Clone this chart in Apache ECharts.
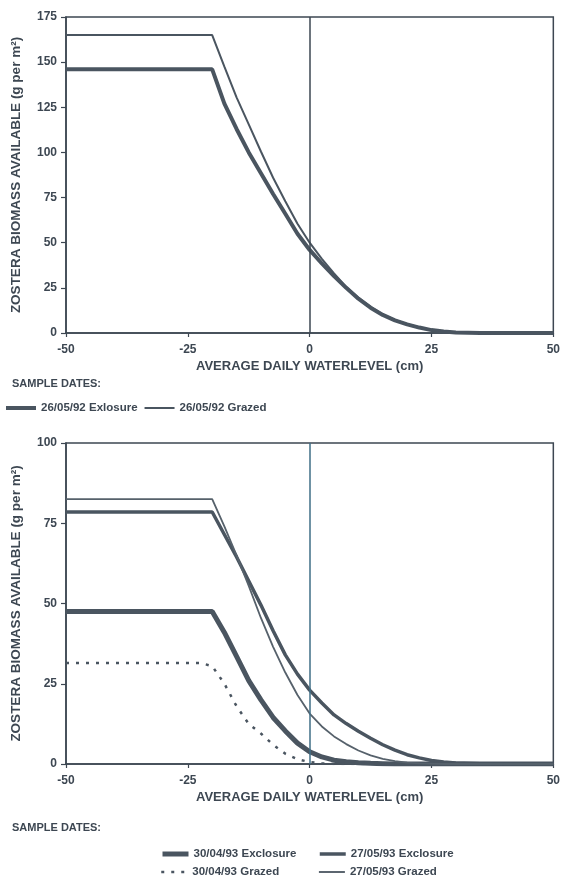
<!DOCTYPE html>
<html>
<head>
<meta charset="utf-8">
<script src="https://cdn.jsdelivr.net/npm/echarts@6/dist/echarts.min.js"></script>
<style>
html,body{margin:0;padding:0;background:#fff;}
#c{width:563px;height:882px;}
</style>
</head>
<body>
<div id="c"></div>
<script>
// ---- data ----
const waterlevel = [-50,-22.5,-20,-17.5,-15,-12.5,-10,-7.5,-5,-2.5,0,2.5,5,7.5,10,12.5,15,17.5,20,22.5,25,27.5,30,35,40,50];

// top chart (1992)
const exclosure920526 = [146,146,146,127,113,100,88.5,77,66,55,46,38.5,31.5,25,19,14,10,7,4.8,3,1.6,0.8,0.3,0.05,0,0];
const grazed920526    = [165,165,165,147.5,130.5,115.5,100.5,86,73,60.5,50,41,33,25.5,19.5,14.5,10.3,7.2,4.9,3.1,1.7,0.9,0.4,0.1,0,0];

// bottom chart (1993)
const exclosure930430 = [47.5,47.5,47.5,41,33.5,26,20,14.5,10.3,6.5,3.8,2.2,1.2,0.7,0.4,0.2,0.1,0,0,0,0,0,0,0,0,0];
const exclosure930527 = [78.5,78.5,78.5,71.5,64.5,57,49.5,41.5,34,28,23,19,15.3,12.6,10.2,8,6,4.3,2.9,1.9,1.1,0.6,0.3,0.1,0,0];
const grazed930430    = [31.5,31.5,30.5,25,18,12.5,9.5,6,3.2,1.5,0.6,0.2,0,0,0,0,0,0,0,0,0,0,0,0,0,0];
const grazed930527    = [82.5,82.5,82.5,74,65,55.5,45.5,36.5,28.5,21.5,15.7,11.7,8.6,6.2,4.2,2.7,1.6,0.9,0.4,0.2,0.1,0,0,0,0,0];

const xTicks = [-50,-25,0,25,50];
const yTicksTop = [0,25,50,75,100,125,150,175];
const yTicksBottom = [0,25,50,75,100];
const zeroLevel = 0;

const names = {
  e92: '26/05/92 Exlosure', g92: '26/05/92 Grazed',
  e930430: '30/04/93 Exclosure', e930527: '27/05/93 Exclosure',
  g930430: '30/04/93 Grazed', g930527: '27/05/93 Grazed'
};

// ---- styling ----
const ink = '#3d4752';
const lineCol = '#4a5560';
const FONT = "'Liberation Sans', Arial, sans-serif";
const pair = ys => waterlevel.map((x,i)=>[x, ys[i]]);

function xAxis(gridIndex){
  return {
    type:'value', gridIndex, min:xTicks[0], max:xTicks[xTicks.length-1], interval:xTicks[1]-xTicks[0],
    name:'AVERAGE DAILY WATERLEVEL (cm)', nameLocation:'middle', nameGap:27,
    nameTextStyle:{color:ink, fontFamily:FONT, fontWeight:'bold', fontSize:13},
    axisLine:{show:true, onZero:false, lineStyle:{color:ink, width:1.5}},
    axisTick:{show:true, length:4, lineStyle:{color:ink, width:1.2}},
    axisLabel:{color:ink, fontFamily:FONT, fontWeight:'bold', fontSize:12, margin:11},
    splitLine:{show:false}
  };
}
function yAxis(gridIndex, ticks){
  return {
    type:'value', gridIndex, min:ticks[0], max:ticks[ticks.length-1], interval:ticks[1]-ticks[0],
    name:'ZOSTERA BIOMASS AVAILABLE (g per m²)', nameLocation:'middle', nameGap:43,
    nameTextStyle:{color:ink, fontFamily:FONT, fontWeight:'bold', fontSize:13.5},
    axisLine:{show:true, onZero:false, lineStyle:{color:ink, width:1.5}},
    axisTick:{show:true, length:5, lineStyle:{color:ink, width:1.2}},
    axisLabel:{color:ink, fontFamily:FONT, fontWeight:'bold', fontSize:12, margin:9},
    splitLine:{show:false}
  };
}
function zeroMark(color){
  return {silent:true, symbol:'none', label:{show:false},
    lineStyle:{color:color, width:1.5, type:'solid'}, data:[{xAxis:zeroLevel}]};
}
function line(name, ys, gi, width, extra){
  return Object.assign({
    name, type:'line', xAxisIndex:gi, yAxisIndex:gi, data:pair(ys),
    symbol:'none', smooth:false, animation:false,
    lineStyle:{color:lineCol, width:width, type:'solid'}, itemStyle:{color:lineCol}
  }, extra||{});
}
const legendText = {color:ink, fontFamily:FONT, fontWeight:'bold', fontSize:11.5};
function item(name, width, type){
  return {name, lineStyle:{width:width, type:type||'solid', color:lineCol}};
}
function leg(data, left, top, w){
  return {data, left, top, orient:'horizontal', padding:0, itemGap:6, itemWidth:w||28, itemHeight:10,
    textStyle:legendText, selectedMode:false, itemStyle:{opacity:0, borderWidth:0}};
}

const chart = echarts.init(document.getElementById('c'), null, {renderer:'canvas'});
chart.setOption({
  animation:false,
  backgroundColor:'#fff',
  grid:[
    {left:66, top:17, width:492, height:316, show:true, borderColor:ink, borderWidth:1.5, backgroundColor:'transparent'},
    {left:66, top:443, width:492, height:321, show:true, borderColor:ink, borderWidth:1.5, backgroundColor:'transparent'}
  ],
  xAxis:[xAxis(0), xAxis(1)],
  yAxis:[yAxis(0, yTicksTop), yAxis(1, yTicksBottom)],
  legend:[
    leg([item(names.e92, 4), item(names.g92, 2)], 4, 402, 30),
    leg([item(names.e930430, 5)], 160, 848, 26),
    leg([item(names.e930527, 3.5)], 318, 848, 26),
    leg([item(names.g930430, 2.5, [3,7])], 160, 866, 26),
    leg([item(names.g930527, 1.8)], 318, 866, 26)
  ],
  graphic:[
    {type:'text', left:12, top:378, style:{text:'SAMPLE DATES:', fill:ink, font:"bold 11px "+FONT}},
    {type:'text', left:12, top:822, style:{text:'SAMPLE DATES:', fill:ink, font:"bold 11px "+FONT}}
  ],
  series:[
    line(names.e92, exclosure920526, 0, 4, {markLine:zeroMark(ink)}),
    line(names.g92, grazed920526, 0, 2),
    line(names.e930430, exclosure930430, 1, 5, {markLine:zeroMark('#3f6e86')}),
    line(names.e930527, exclosure930527, 1, 3.5),
    line(names.g930430, grazed930430, 1, 2.5, {lineStyle:{color:lineCol, width:2.5, type:[3,7]}}),
    line(names.g930527, grazed930527, 1, 1.8, {lineStyle:{color:'#56616b', width:1.8, type:'solid'}})
  ]
});
</script>
</body>
</html>
